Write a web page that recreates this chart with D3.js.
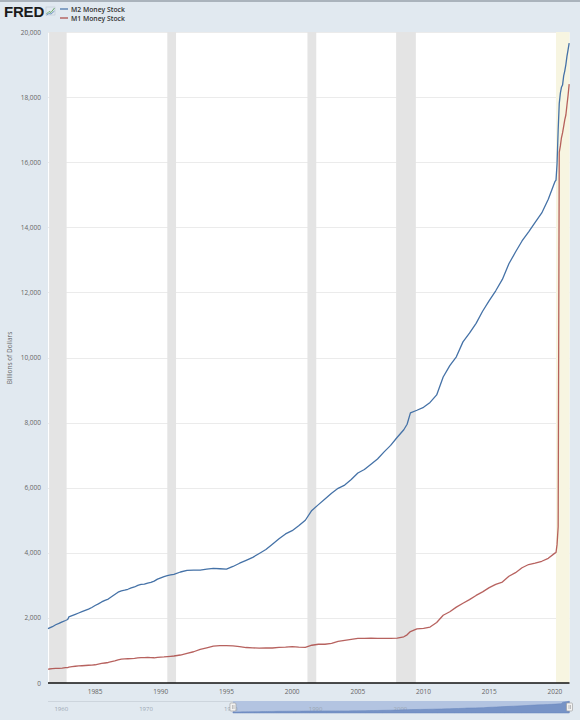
<!DOCTYPE html>
<html>
<head>
<meta charset="utf-8">
<script src="https://cdn.jsdelivr.net/npm/d3@7"></script>
<style>
html,body{margin:0;padding:0;background:#e1e9f0;}
svg{display:block;font-family:"Open Sans","Liberation Sans",Arial,sans-serif;}
</style>
</head>
<body>
<svg id="chart" width="580" height="720"></svg>
<script>
// ---- data ----
const dates = ["1981-06","1981-07","1981-10","1982-01","1982-04","1982-07","1982-10","1982-12","1983-01","1983-04","1983-07","1983-10","1984-01","1984-04","1984-07","1984-10","1985-01","1985-04","1985-07","1985-10","1986-01","1986-04","1986-07","1986-10","1987-01","1987-04","1987-07","1987-10","1988-01","1988-04","1988-07","1988-10","1989-01","1989-04","1989-07","1989-10","1990-01","1990-04","1990-07","1990-10","1991-01","1991-07","1992-01","1992-07","1993-01","1993-07","1994-01","1994-07","1995-01","1995-07","1996-01","1996-07","1997-01","1997-07","1998-01","1998-07","1999-01","1999-07","2000-01","2000-07","2001-01","2001-07","2002-01","2002-07","2003-01","2003-07","2004-01","2004-07","2005-01","2005-07","2006-01","2006-07","2007-01","2007-07","2008-01","2008-07","2008-10","2009-01","2009-07","2010-01","2010-07","2011-01","2011-07","2012-01","2012-07","2013-01","2013-07","2014-01","2014-07","2015-01","2015-07","2016-01","2016-07","2017-01","2017-07","2018-01","2018-07","2019-01","2019-07","2020-01","2020-02","2020-03","2020-04","2020-05","2020-06","2020-07","2020-08","2020-09","2020-10","2020-11","2020-12","2021-01","2021-02"];
const m2 = [1670,1685,1730,1790,1830,1880,1920,1950,2030,2070,2110,2150,2190,2230,2270,2320,2380,2430,2490,2540,2580,2650,2720,2790,2830,2850,2880,2920,2950,3000,3030,3040,3070,3090,3130,3190,3230,3270,3300,3320,3340,3410,3460,3470,3470,3500,3520,3510,3500,3580,3680,3770,3860,3980,4100,4260,4430,4580,4680,4830,5000,5300,5480,5650,5830,5980,6080,6250,6450,6560,6720,6880,7100,7300,7550,7780,7950,8300,8380,8470,8620,8850,9400,9750,10020,10480,10750,11050,11420,11750,12050,12400,12880,13240,13580,13860,14150,14440,14860,15400,15450,15950,17000,17800,18120,18300,18370,18650,18800,19000,19250,19450,19660];
const m1 = [428,430,440,450,452,455,470,475,485,500,515,523,530,538,545,552,560,580,600,615,630,655,680,710,735,742,745,750,755,770,780,782,785,778,775,785,795,800,810,820,830,860,910,960,1030,1080,1130,1150,1150,1140,1120,1090,1080,1070,1075,1075,1095,1100,1120,1100,1095,1160,1190,1190,1220,1280,1310,1340,1370,1370,1380,1370,1370,1370,1380,1420,1480,1580,1660,1680,1720,1860,2080,2190,2330,2450,2560,2690,2800,2930,3030,3100,3280,3390,3540,3640,3680,3740,3830,3990,4010,4250,4800,16300,16500,16750,16900,17100,17300,17450,17750,18050,18400];
const seriesNames = ["M2 Money Stock","M1 Money Stock"];
const seriesColors = ["#4572a7","#aa4643"];
const recStart = ["1981-07","1990-07","2001-03","2007-12"];
const recEnd   = ["1982-11","1991-03","2001-11","2009-06"];
const shadeStart = "2020-02";
const yTicks = [0,2000,4000,6000,8000,10000,12000,14000,16000,18000,20000];
const xTickYears = [1985,1990,1995,2000,2005,2010,2015,2020];
const navTickYears = [1960,1970,1980,1990,2000];
const yTitle = "Billions of Dollars";

// ---- setup ----
const parse = d3.timeParse("%Y-%m");
const svg = d3.select("#chart");
const L = 48, R = 569.5, T = 32, B = 683;
const x = d3.scaleTime().domain([new Date(1981,5,1), new Date(2021,1,10)]).range([L,R]);
const y = d3.scaleLinear().domain([0,20000]).range([B,T]);

// top border
svg.append("rect").attr("x",0).attr("y",0).attr("width",580).attr("height",2).attr("fill","#aab3bc");

// plot background
svg.append("rect").attr("x",L).attr("y",T).attr("width",R-L).attr("height",B-T).attr("fill","#fff");

// gridlines
svg.append("g").selectAll("line").data(yTicks.slice(1)).join("line")
  .attr("x1",L).attr("x2",R).attr("y1",d=>Math.round(y(d))+0.5).attr("y2",d=>Math.round(y(d))+0.5)
  .attr("stroke","#ebebeb").attr("stroke-width",1);

// recession bands
svg.append("g").selectAll("rect").data(recStart.map((s,i)=>[parse(s),parse(recEnd[i])])).join("rect")
  .attr("x",d=>Math.max(L,x(d[0]))).attr("width",d=>x(d[1])-Math.max(L,x(d[0])))
  .attr("y",T).attr("height",B-T).attr("fill","#e4e4e4");
svg.append("rect").attr("x",x(parse(shadeStart))).attr("width",R-x(parse(shadeStart)))
  .attr("y",T).attr("height",B-T).attr("fill","#f7f5e1");

// y axis labels
svg.append("g").selectAll("text").data(yTicks).join("text")
  .attr("x",41).attr("y",d=>y(d)+2.5).attr("text-anchor","end")
  .attr("font-size",6.5).attr("fill","#666").text(d=>d3.format(",")(d));

// y title
svg.append("text").attr("transform","translate(12,358) rotate(-90)")
  .attr("text-anchor","middle").attr("font-size",6.5).attr("fill","#666").text(yTitle);

// x labels
svg.append("g").selectAll("text").data(xTickYears).join("text")
  .attr("x",d=>x(new Date(d,0,1))).attr("y",694).attr("text-anchor","middle")
  .attr("font-size",6.5).attr("fill","#666").text(d=>d);

// series lines
const pts = dates.map(parse);
const line = d3.line().x((d,i)=>x(pts[i])).y(d=>y(d));
[m2,m1].forEach((vals,k)=>{
  svg.append("path").datum(vals).attr("d",line).attr("fill","none")
    .attr("stroke",seriesColors[k]).attr("stroke-width",1.3).attr("stroke-linejoin","round")
    .attr("stroke-opacity",k===1?0.85:1);
});

// baseline
svg.append("line").attr("x1",L).attr("x2",R).attr("y1",B).attr("y2",B).attr("stroke","#111").attr("stroke-width",1.5);

// ---- navigator ----
const NT = 701, NB = 713;
const nx = d3.scaleLinear().domain([1959.6, 2021.11]).range([L,R]);
const ny = d3.scaleLinear().domain([0,20000]).range([NB,NT]);
const dec = d=>d.getFullYear()+d.getMonth()/12;
svg.append("line").attr("x1",L).attr("x2",R).attr("y1",NT+0.5).attr("y2",NT+0.5).attr("stroke","#cdd5dd");
const selX0 = nx(dec(x.domain()[0]));
svg.append("rect").attr("x",selX0).attr("y",NT).attr("width",R-selX0).attr("height",NB-NT).attr("fill","#b3c4e1");
svg.append("g").selectAll("text").data(navTickYears).join("text")
  .attr("x",d=>nx(d)+3).attr("y",711).attr("font-size",6).attr("fill","#9aa6b2").text(d=>d);
const area = d3.area().x((d,i)=>nx(dec(pts[i]))).y0(NB).y1(d=>ny(d));
svg.append("path").datum(m2).attr("d",area).attr("fill","#7793c6").attr("stroke","#6685bd").attr("stroke-width",0.5);
// handles
[selX0,R].forEach(hx=>{
  svg.append("rect").attr("x",hx-3).attr("y",703).attr("width",6).attr("height",8).attr("rx",1)
    .attr("fill","#f2f2f2").attr("stroke","#999").attr("stroke-width",0.6);
  svg.append("line").attr("x1",hx-0.5).attr("x2",hx-0.5).attr("y1",705).attr("y2",709).attr("stroke","#888").attr("stroke-width",0.5);
  svg.append("line").attr("x1",hx+1).attr("x2",hx+1).attr("y1",705).attr("y2",709).attr("stroke","#888").attr("stroke-width",0.5);
});

// ---- header: logo + legend ----
svg.append("text").attr("x",4).attr("y",17).attr("font-family","'Liberation Sans',Arial,sans-serif")
  .attr("font-size",15).attr("font-weight",900).attr("fill","#1b1b1b").attr("letter-spacing",-0.2).text("FRED");
const icon = svg.append("g");
icon.append("rect").attr("x",46).attr("y",7).attr("width",9).attr("height",8).attr("fill","none").attr("stroke","#b8c3cc").attr("stroke-width",0.5);
icon.append("polyline").attr("points","46.5,14 49,11.5 51,12.5 54.5,8").attr("fill","none").attr("stroke","#6aa86a").attr("stroke-width",1);
icon.append("polyline").attr("points","46.5,15 49,13.5 51,14 54.5,11").attr("fill","none").attr("stroke","#4a78b0").attr("stroke-width",0.7);
seriesNames.forEach((n,i)=>{
  const ly = 9 + i*9;
  svg.append("line").attr("x1",60).attr("x2",68).attr("y1",ly).attr("y2",ly).attr("stroke",seriesColors[i]).attr("stroke-width",1.2);
  svg.append("text").attr("x",71).attr("y",ly+2.5).attr("font-size",6.8).attr("font-weight",600).attr("fill","#333").text(n);
});
</script>
</body>
</html>
